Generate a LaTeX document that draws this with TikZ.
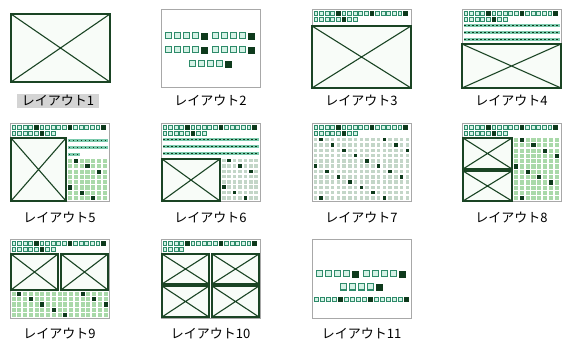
\documentclass[tikz,border=0pt]{standalone}
\usepackage{fontspec}
\newfontfamily\jpfont{Noto Sans CJK JP}
\definecolor{frm}{HTML}{A8A8A8}
\definecolor{sqline}{HTML}{2E8B6A}
\definecolor{sqlight}{HTML}{D5F2E6}
\definecolor{sqdark}{HTML}{0E3A1C}
\definecolor{phline}{HTML}{1A4424}
\definecolor{phfill}{HTML}{F8FCF8}
\definecolor{bandc}{HTML}{7CCBAE}
\definecolor{gridl}{HTML}{A9D9A9}
\definecolor{gridg}{HTML}{C3D6C8}
\definecolor{hlc}{HTML}{D4D4D4}
\tikzset{
  frame/.style={draw=frm, fill=white, line width=1pt},
  lsq/.style={fill=sqlight, draw=sqline, line width=0.7pt},
  dsq/.style={fill=sqdark, draw=sqdark, line width=0.7pt},
  phbox/.style={draw=phline, line width=1.9pt, fill=phfill},
  phx/.style={draw=phline, line width=1.1pt},
  lab/.style={font=\jpfont\fontsize{13}{15}\selectfont, inner sep=1pt},
}
% title strip: #1 = 8 (normal) or 4 (short second row)
\newcommand{\Tstrip}[1]{%
  \foreach \i in {0,1,2,3,5,6,7,8,9,11,12,13,14,15} \draw[lsq] ({2+\i*5.6},1.5) rectangle ++(3.8,3.8);
  \foreach \i in {4,10,16} \draw[dsq] ({2+\i*5.6},1.5) rectangle ++(3.8,3.8);
  \ifnum#1=8
    \foreach \i in {0,1,2,3,4,6,7} \draw[lsq] ({2+\i*5.6},7.3) rectangle ++(3.8,3.8);
    \draw[dsq] ({2+5*5.6},7.3) rectangle ++(3.8,3.8);
  \else
    \foreach \i in {0,1,2,3} \draw[lsq] ({2+\i*5.6},7.3) rectangle ++(3.8,3.8);
  \fi}
% picture placeholder
\newcommand{\Ph}[4]{\draw[phbox] (#1,#2) rectangle (#3,#4); \draw[phx] (#1,#2) -- (#3,#4) (#1,#4) -- (#3,#2);}
% text row of dots: u0, v, count
\newcommand{\Drow}[3]{%
  \fill[bandc] (#1,#2) rectangle ({#1+#3*4},{#2+3});
  \foreach \k in {1,...,#3} \fill[sqdark] ({#1+(\k-1)*4+0.6},{#2+0.6}) rectangle ++(1.8,1.8);}
% grid: u0, v0, cols, rows, px, py, light colour, size
\newcommand{\Grid}[8]{%
  \foreach \i in {1,...,#3}{\foreach \j in {1,...,#4}{%
    \pgfmathtruncatemacro\rr{mod(\i*4+\j*3,11)}%
    \ifnum\rr=0
      \fill[sqdark] ({#1+(\i-1)*#5},{#2+(\j-1)*#6}) rectangle ++(#8,#8);
    \else
      \fill[#7] ({#1+(\i-1)*#5},{#2+(\j-1)*#6}) rectangle ++(#8,#8);
    \fi}}}
% big squares group of five (last dark): u0, v
\newcommand{\Five}[2]{%
  \foreach \k in {0,1,2,3} \draw[lsq, line width=1pt] ({#1+\k*9},#2) rectangle ++(6.5,6);
  \draw[dsq] ({#1+4*9},#2) rectangle ++(6.5,6);}
\begin{document}
\begin{tikzpicture}[x=1pt, y=-1pt]
\useasboundingbox (0,0) rectangle (563,342);
\fill[white] (0,0) rectangle (563,342);
% Layout 1
\Ph{11}{14}{110}{82}
\node[lab, fill=hlc, inner xsep=5pt, inner ysep=2pt] (l1) at (58,101) {レイアウト1};
% Layout 2
\begin{scope}[shift={(161,10)}]
\draw[frame] (0,0) rectangle (99,78);
\Five{4.25}{23}\Five{51.25}{23}
\Five{4.25}{37}\Five{51.25}{37}
\Five{28.25}{51}
\end{scope}
\node[lab] (l2) at (210.5,101) {レイアウト2};
% Layout 3
\begin{scope}[shift={(312,10)}]
\draw[frame] (0,0) rectangle (99,78);
\Tstrip{8}
\Ph{0}{16}{99}{78}
\end{scope}
\node[lab] (l3) at (361.5,101) {レイアウト3};
% Layout 4
\begin{scope}[shift={(462,10)}]
\draw[frame] (0,0) rectangle (99,78);
\Tstrip{8}
\Drow{1.5}{14}{24}\Drow{1.5}{21}{24}\Drow{1.5}{28}{24}
\Ph{0}{34}{99}{78}
\end{scope}
\node[lab] (l4) at (511.5,101) {レイアウト4};
% Layout 5
\begin{scope}[shift={(10,124)}]
\draw[frame] (0,0) rectangle (99,78);
\Tstrip{8}
\Ph{1}{14}{56}{77}
\Drow{58}{15}{10}\Drow{58}{22}{10}\Drow{58}{29}{3}
\Grid{58}{35}{7}{8}{5.8}{5.3}{gridl}{4.2}
\end{scope}
\node[lab] (l5) at (59.5,218) {レイアウト5};
% Layout 6
\begin{scope}[shift={(161,124)}]
\draw[frame] (0,0) rectangle (99,78);
\Tstrip{8}
\Drow{1.5}{14}{24}\Drow{1.5}{21}{24}\Drow{1.5}{28}{24}
\Ph{1}{35}{59}{77}
\Grid{61}{35}{7}{8}{5.4}{5.3}{gridg}{3.5}
\end{scope}
\node[lab] (l6) at (210.5,218) {レイアウト6};
% Layout 7
\begin{scope}[shift={(312,124)}]
\draw[frame] (0,0) rectangle (99,78);
\Tstrip{8}
\Grid{1.5}{14}{17}{12}{5.75}{5.3}{gridg}{3.5}
\end{scope}
\node[lab] (l7) at (361.5,218) {レイアウト7};
% Layout 8
\begin{scope}[shift={(462,124)}]
\draw[frame] (0,0) rectangle (99,78);
\Tstrip{8}
\Ph{1}{14}{50}{45}
\Ph{1}{47}{50}{77}
\Grid{52}{14}{8}{12}{5.8}{5.3}{gridl}{4.2}
\end{scope}
\node[lab] (l8) at (511.5,218) {レイアウト8};
% Layout 9
\begin{scope}[shift={(10,240)}]
\draw[frame] (0,0) rectangle (99,78);
\Tstrip{8}
\Ph{1}{14}{48}{50}
\Ph{51}{14}{98}{50}
\Grid{1.5}{52}{17}{5}{5.75}{5.2}{gridl}{4.2}
\end{scope}
\node[lab] (l9) at (59.5,334) {レイアウト9};
% Layout 10
\begin{scope}[shift={(161,240)}]
\draw[frame] (0,0) rectangle (99,78);
\Tstrip{4}
\Ph{1}{14}{48}{44}
\Ph{51}{14}{98}{44}
\Ph{1}{46}{48}{77}
\Ph{51}{46}{98}{77}
\end{scope}
\node[lab] (l10) at (210.5,334) {レイアウト10};
% Layout 11
\begin{scope}[shift={(312,240)}]
\draw[frame] (0,0) rectangle (99,78);
\Five{4.25}{31}\Five{51.25}{31}
\Five{28.25}{44}
\foreach \i in {0,1,2,3,5,6,7,8,10,11,12,13,14} \draw[lsq] ({2.25+\i*6},57) rectangle ++(4.5,4.5);
\foreach \i in {4,9,15} \draw[dsq] ({2.25+\i*6},57) rectangle ++(4.5,4.5);
\end{scope}
\node[lab] (l11) at (361.5,334) {レイアウト11};
\end{tikzpicture}
\end{document}
